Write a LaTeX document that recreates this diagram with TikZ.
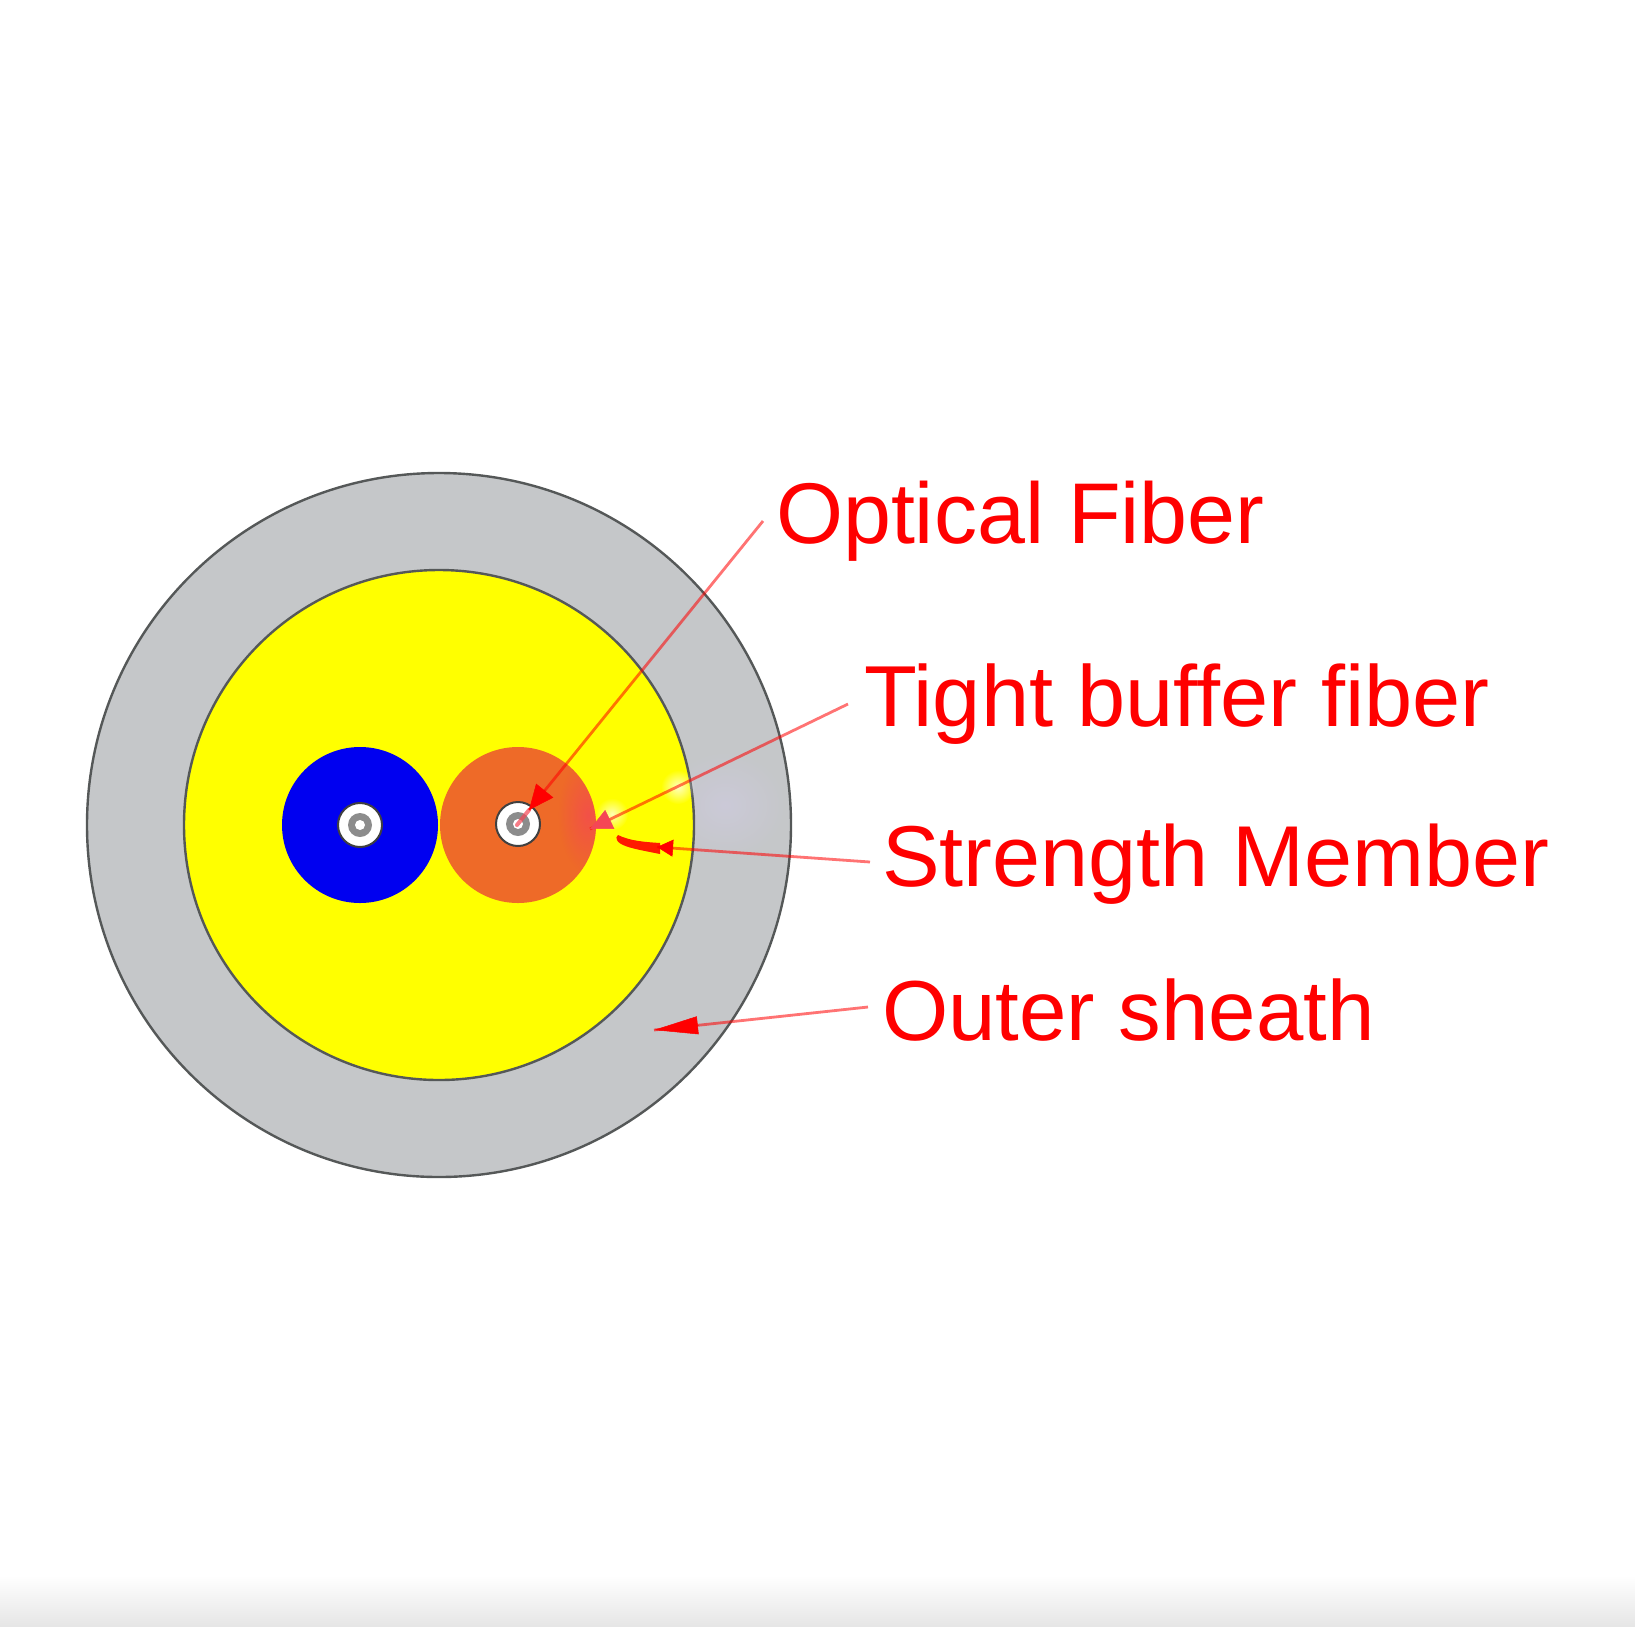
\documentclass[tikz,border=0pt]{standalone}
\usepackage{fontspec}
\setmainfont{Liberation Sans}
\usetikzlibrary{arrows.meta,calc,fadings}
\definecolor{sheath}{RGB}{197,199,201}
\definecolor{edgegrey}{RGB}{85,88,88}
\definecolor{yarnyellow}{RGB}{255,255,0}
\definecolor{buffblue}{RGB}{0,0,240}
\definecolor{bufforange}{RGB}{238,106,40}
\definecolor{labelred}{RGB}{255,0,0}
\definecolor{softhead}{RGB}{245,70,85}
\definecolor{lavender}{RGB}{208,204,226}
\tikzfading[name=softdot,inner color=transparent!0,outer color=transparent!100]
\tikzset{
  disc/.style={circle,inner sep=0pt,outer sep=0pt,minimum size=#1},
  lbl/.style={anchor=base west,inner sep=0pt,outer sep=0pt,text=labelred,font=\fontsize{#1}{90}\selectfont},
  leadline/.style={draw=labelred,line width=2.8pt,draw opacity=0.55},
  headtip/.style={draw=#1,line width=0.5pt},
  coatring/.style={disc=44pt,fill=white,draw=black!75,line width=2pt},
  corering/.style={disc=24pt,fill=black!45},
  glasscore/.style={disc=10pt,fill=white},
  glow/.style={path fading=softdot,fill=#1}
}
\begin{document}
\begin{tikzpicture}[x=1pt,y=-1pt]
\useasboundingbox (0,0) rectangle (1635,1626);
\fill[white] (0,0) rectangle (1635,1626);
\shade[top color=white,bottom color=black!10] (0,1576) rectangle (1635,1626);
% cable
\node[disc=704pt,fill=sheath,draw=edgegrey,line width=2.4pt] (sheathdisc) at (439,825) {};
\fill[glow=lavender,fill opacity=0.6] (725,805) ellipse (62 and 55);
\node[disc=510pt,fill=yarnyellow,draw=edgegrey,line width=2.4pt] (yarn) at (439,825) {};
\node[disc=156pt,fill=buffblue] (bluebuffer) at (360,825) {};
\node[disc=156pt,fill=bufforange] (orangebuffer) at (518,825) {};
\begin{scope}
  \clip (518,825) circle (78);
  \fill[glow=softhead,fill opacity=0.7] (588,815) ellipse (30 and 58);
\end{scope}
% blue fibre
\node[coatring] (bluecoat) at (360,825) {};
\node[corering] (bluecore) at (360,825) {};
\node[glasscore] (blueglass) at (360,825) {};
% orange fibre
\node[coatring] (orangecoat) at (518,824) {};
\node[corering] (orangecore) at (518,824) {};
\node[glasscore] (orangeglass) at (518,824) {};
% smudges
\fill[glow=white,fill opacity=0.75] (678,787) circle (17);
\fill[glow=white,fill opacity=0.7] (612,814) circle (16);
% labels
\node[lbl=86.2] (optical) at (776,543) {Optical Fiber};
\node[lbl=86.6] (tight) at (864,726) {Tight buffer fiber};
\node[lbl=86.4] (strength) at (882,886) {Strength Member};
\node[lbl=85.2] (outer) at (882,1040) {Outer sheath};
% connector ends
\coordinate (opticalstart) at (763,521);
\coordinate (opticaltip) at (529,810);
\coordinate (opticalend) at (517,825);
\coordinate (tightstart) at (848,704);
\coordinate (tighttip) at (590,829);
\coordinate (strengthstart) at (870,862);
\coordinate (strengthtip) at (657,847);
\coordinate (smearend) at (617,840);
\coordinate (outerstart) at (868,1007);
\coordinate (outertip) at (654,1030);
% connectors
\draw[draw=softhead,draw opacity=0.7,line width=4pt,line cap=round] (opticaltip) -- (opticalend);
\draw[leadline] (opticalstart) -- (opticaltip);
\draw[headtip=labelred,-{Triangle[length=25pt,width=22pt,color=labelred]}] ($(opticaltip)!26pt!(opticalstart)$) -- (opticaltip);
\draw[leadline] (tightstart) -- (tighttip);
\draw[headtip=softhead,-{Triangle[length=22pt,width=21pt,color=softhead]}] ($(tighttip)!23pt!(tightstart)$) -- (tighttip);
\fill[labelred!80!orange] (smearend) .. controls (619,845) and (630,848) .. (645,851) -- (660,854) -- (660,843) .. controls (645,842) and (630,841) .. (618,835) .. controls (616,836) and (616,839) .. (smearend) -- cycle;
\draw[leadline] (strengthstart) -- (strengthtip);
\draw[headtip=labelred,-{Triangle[length=16pt,width=17pt,color=labelred]}] ($(strengthtip)!17pt!(strengthstart)$) -- (strengthtip);
\draw[leadline] (outerstart) -- (outertip);
\draw[headtip=labelred,-{Triangle[length=44pt,width=18pt,color=labelred]}] ($(outertip)!45pt!(outerstart)$) -- (outertip);
\end{tikzpicture}
\end{document}
